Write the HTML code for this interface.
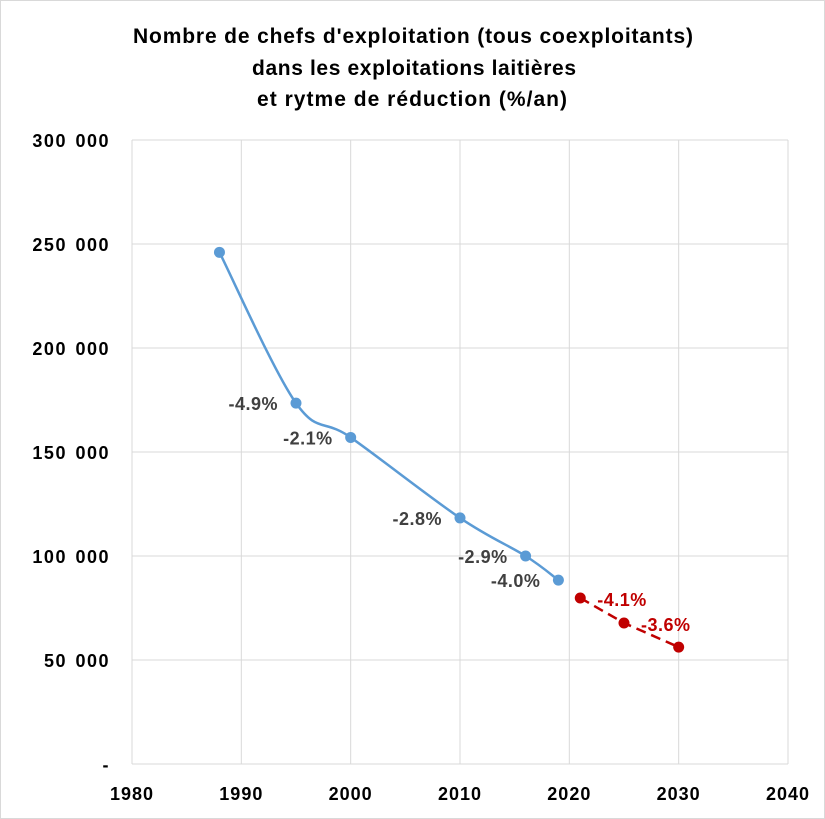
<!DOCTYPE html>
<html><head><meta charset="utf-8"><style>
body{margin:0;background:#fff;}
svg{display:block;font-family:"Liberation Sans",Arial,sans-serif;}
</style></head><body>
<svg id="chart" width="825" height="819">
<rect x="0.5" y="0.5" width="824" height="818" fill="#fff" stroke="#d9d9d9"/>
<g font-weight="bold" font-size="21" text-anchor="middle" fill="#000">
<text x="413" y="43" textLength="560" lengthAdjust="spacing">Nombre de chefs d'exploitation (tous coexploitants)</text>
<text x="414" y="75" textLength="324" lengthAdjust="spacing">dans les exploitations laitières</text>
<text x="412" y="106" textLength="310" lengthAdjust="spacing">et rytme de réduction (%/an)</text>
</g>
<g id="grid"></g>
<g id="axes"></g>
<g id="series"></g>
</svg>
<script>
const years=[1988,1995,2000,2010,2016,2019];
const values=[246000,173500,157000,118300,100000,88400];
const rates=["","-4.9%","-2.1%","-2.8%","-2.9%","-4.0%"];
const projYears=[2021,2025,2030];
const projValues=[79800,67800,56200];
const projRates=["","-4.1%","-3.6%"];
const xTicks=[1980,1990,2000,2010,2020,2030,2040];
const yTicks=[0,50000,100000,150000,200000,250000,300000];
const yLabels=["-","50 000","100 000","150 000","200 000","250 000","300 000"];

const X0=132,X1=788,Y0=764,Y1=140;
const xs=v=>X0+(v-1980)/60*(X1-X0);
const ys=v=>Y0-v/300000*(Y0-Y1);
const NS="http://www.w3.org/2000/svg";
function mk(t,a,p){const e=document.createElementNS(NS,t);for(const k in a)e.setAttribute(k,a[k]);p.appendChild(e);return e;}
const grid=document.getElementById('grid'),axes=document.getElementById('axes'),series=document.getElementById('series');
xTicks.forEach(t=>{const l=mk('line',{x1:xs(t),x2:xs(t),y1:Y1,y2:Y0,stroke:'#d9d9d9'},grid);


const tx=mk('text',{x:xs(t),y:Y0+36,'text-anchor':'middle','font-size':'18','font-weight':'bold','letter-spacing':'1'},axes);tx.textContent=t;

});
yTicks.forEach((t,i)=>{const l=mk('line',{x1:X0,x2:X1,y1:ys(t),y2:ys(t),stroke:'#d9d9d9'},grid);


const tx=mk('text',{x:110,y:ys(t)+7,'text-anchor':'end','font-size':'18','font-weight':'bold','letter-spacing':'1.5','word-spacing':'2'},axes);tx.textContent=yLabels[i];

});
function smooth(pts){let d=`M${pts[0][0]},${pts[0][1]}`;for(let i=0;i<pts.length-1;i++){const p0=pts[i-1]||pts[i],p1=pts[i],p2=pts[i+1],p3=pts[i+2]||p2;const t=6;
d+=` C${p1[0]+(p2[0]-p0[0])/t},${p1[1]+(p2[1]-p0[1])/t} ${p2[0]-(p3[0]-p1[0])/t},${p2[1]-(p3[1]-p1[1])/t} ${p2[0]},${p2[1]}`;}return d;}
const pts=years.map((y,i)=>[xs(y),ys(values[i])]);
const ln=mk('path',{d:smooth(pts),fill:'none',stroke:'#5b9bd5','stroke-width':'2.5'},series);


pts.forEach((p,i)=>{const c=mk('circle',{cx:p[0],cy:p[1],r:5.5,fill:'#5b9bd5'},series);


if(rates[i]){const t=mk('text',{x:p[0]-18,y:p[1]+7,'text-anchor':'end','font-size':'18','font-weight':'bold',fill:'#404040','letter-spacing':'0.5'},series);t.textContent=rates[i];

}});
const pp=projYears.map((y,i)=>[xs(y),ys(projValues[i])]);
const pl=mk('polyline',{points:pp.map(p=>p.join(',')).join(' '),fill:'none',stroke:'#c00000','stroke-width':'2.5','stroke-dasharray':'10,6'},series);


pp.forEach((p,i)=>{const c=mk('circle',{cx:p[0],cy:p[1],r:5.5,fill:'#c00000'},series);


if(projRates[i]){const prev=pp[i-1];const t=mk('text',{x:prev[0]+17,y:prev[1]+8,'font-size':'18','font-weight':'bold',fill:'#c00000','letter-spacing':'0.5'},series);t.textContent=projRates[i];

}});
</script>
</body></html>
